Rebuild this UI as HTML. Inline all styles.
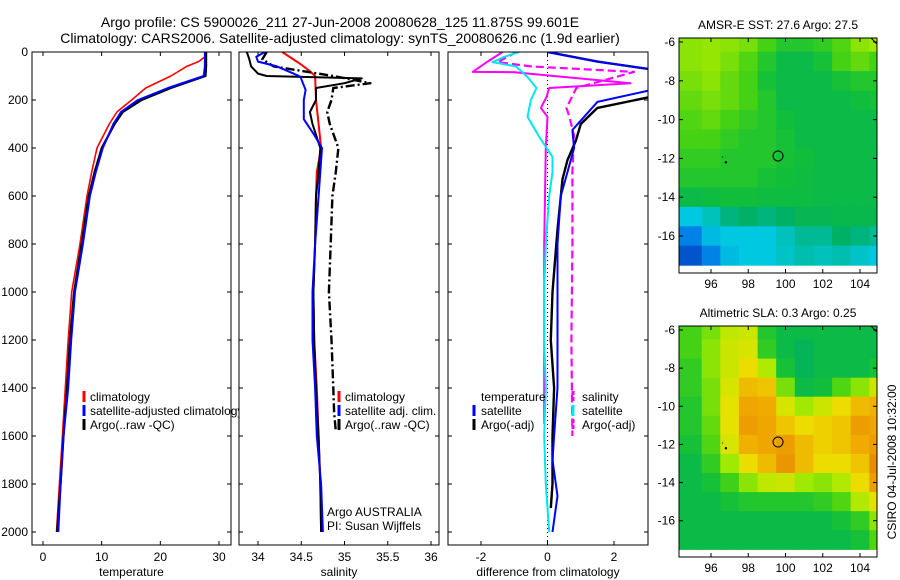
<!DOCTYPE html>
<html><head><meta charset="utf-8">
<style>
html,body{margin:0;padding:0;background:#fff;}
svg{display:block;font-family:"Liberation Sans",Arial,sans-serif;}
</style></head>
<body>
<svg id="fig" width="900" height="580" viewBox="0 0 900 580"></svg>
<script>
// ---------- DATA ----------
const depthTicks=[0,200,400,600,800,1000,1200,1400,1600,1800,2000];
const tempTicks=[0,10,20,30];
const salTicks=[34,34.5,35,35.5,36];
const salTickLabels=["34","34.5","35","35.5","36"];
const diffTicks=[-2,0,2];
const lonTicks=[96,98,100,102,104];
const latTicks=[-6,-8,-10,-12,-14,-16];

const tClimDepth=[0,20,40,60,100,150,200,250,300,400,500,600,800,1000,1200,1400,1600,1800,2000];
const tClim=[27.8,27.6,26.5,24.5,21.8,17.5,15.1,12.6,11.3,9.2,8.3,7.5,6.3,4.9,4.3,3.8,3.3,2.8,2.3];
const tSatDepth=[0,20,40,60,100,150,200,250,300,400,500,600,800,1000,1200,1400,1600,1800,2000];
const tSat=[27.6,27.6,27.6,27.6,27.4,21.3,16.2,13.3,12.0,10.2,9.0,8.0,6.8,5.45,4.8,4.3,3.5,3.0,2.6];
const tArgoDepth=[0,20,40,60,100,150,200,250,300,400,500,600,800,1000,1200,1400,1600,1800,2000];
const tArgo=[27.8,27.8,27.8,27.8,27.7,21.8,16.8,13.6,12.2,10.0,8.8,7.8,6.6,5.3,4.6,4.1,3.5,3.0,2.4];

const sClimDepth=[0,50,80,100,200,300,400,500,600,800,1000,1200,1400,1600,1800,2000];
const sClim=[34.28,34.49,34.6,34.66,34.67,34.7,34.73,34.68,34.67,34.66,34.64,34.65,34.68,34.7,34.72,34.73];
const sSatDepth=[0,20,40,60,90,103,158,200,280,340,400,500,600,800,1000,1200,1400,1600,1800,2000];
const sSat=[34.08,33.98,34.0,34.22,34.41,34.49,34.55,34.53,34.53,34.64,34.74,34.72,34.7,34.66,34.63,34.63,34.66,34.68,34.73,34.75];
const sArgoDepth=[0,30,60,90,100,110,130,150,200,250,300,400,500,600,800,1000,1200,1400,1600,1800,2000];
const sArgo=[33.87,33.9,33.92,34.0,34.1,35.2,35.0,34.67,34.67,34.6,34.63,34.72,34.7,34.67,34.66,34.64,34.65,34.67,34.7,34.72,34.73];
const sRawDepth=[0,30,60,100,130,150,200,250,300,400,500,600,800,1000,1200,1400,1500,1580];
const sRaw=[34.1,34.05,34.18,34.87,35.3,34.87,34.85,34.8,34.83,34.93,34.9,34.86,34.84,34.82,34.85,34.87,34.88,34.9];

const dTSatDepth=[0,40,70,100,150,162,208,325,400,500,600,800,1000,1200,1400,1600,1700,1850,2000];
const dTSat=[0,1.5,3,4.5,4,3,1.5,0.75,0.8,0.6,0.4,0.3,0.3,0.3,0.3,0.2,0.15,0.3,0.15];
const dTArgoDepth=[0,40,70,100,150,190,233,300,370,450,530,740,1000,1200,1400,1600,1800,1900];
const dTArgo=[0,1.5,3,4.5,4.5,3,1.5,1.0,0.85,0.6,0.45,0.3,0.15,0.1,0.2,0.15,0.15,0.1];
const dSSatDepth=[0,20,42,60,104,150,200,270,353,437,500,600,800,1000,1200,1400,1600,1800,2000];
const dSSat=[-0.85,-1.3,-1.65,-0.95,-0.6,-0.33,-0.5,-0.6,-0.25,0.15,0.15,0.05,-0.05,-0.1,-0.1,-0.05,-0.1,-0.05,0.05];
const dSArgoDepth=[0,40,83,84,130,150,187,233,270,400,800,1200,1550];
const dSArgo=[-1.35,-1.8,-2.25,-1.0,2.5,0.05,-0.03,-0.2,0,-0.05,-0.1,-0.1,-0.1];
const dSRawDepth=[0,42,60,83,150,233,270,350,500,800,1200,1600];
const dSRaw=[-0.93,-1.5,-0.5,2.6,0.87,0.57,0.66,0.8,0.75,0.75,0.72,0.75];

const mapLats=[-6,-7,-8,-9,-10,-11,-12,-13,-14,-15,-16,-17,-18];
const mapLons=[94.3,95.5,96.5,97.5,98.5,99.5,100.5,101.5,102.5,103.5,104.5];
const sstGrid=[
[0.62,0.63,0.62,0.6,0.55,0.5,0.5,0.52,0.56,0.62,0.64],
[0.62,0.63,0.6,0.56,0.5,0.45,0.45,0.48,0.55,0.58,0.55],
[0.6,0.62,0.58,0.55,0.48,0.45,0.45,0.45,0.48,0.5,0.5],
[0.58,0.6,0.58,0.55,0.5,0.45,0.45,0.45,0.45,0.47,0.48],
[0.56,0.58,0.55,0.52,0.5,0.47,0.45,0.45,0.45,0.45,0.45],
[0.55,0.55,0.52,0.5,0.5,0.48,0.45,0.45,0.45,0.45,0.45],
[0.52,0.52,0.5,0.5,0.5,0.48,0.47,0.45,0.45,0.45,0.45],
[0.5,0.5,0.5,0.5,0.48,0.47,0.46,0.45,0.45,0.45,0.45],
[0.45,0.46,0.47,0.47,0.46,0.46,0.46,0.45,0.45,0.45,0.45],
[0.3,0.33,0.38,0.4,0.38,0.4,0.43,0.43,0.44,0.44,0.44],
[0.2,0.28,0.3,0.3,0.3,0.33,0.36,0.36,0.4,0.38,0.36],
[0.1,0.2,0.28,0.3,0.3,0.32,0.34,0.33,0.34,0.32,0.3]];
const slaGrid=[
[0.55,0.6,0.68,0.7,0.5,0.45,0.45,0.45,0.45,0.45,0.45],
[0.55,0.62,0.7,0.72,0.52,0.45,0.42,0.45,0.45,0.45,0.45],
[0.52,0.62,0.7,0.76,0.66,0.48,0.42,0.45,0.45,0.45,0.48],
[0.52,0.6,0.72,0.82,0.8,0.6,0.45,0.47,0.56,0.62,0.7],
[0.5,0.6,0.74,0.86,0.85,0.72,0.64,0.7,0.76,0.82,0.84],
[0.5,0.58,0.74,0.88,0.86,0.8,0.76,0.78,0.8,0.88,0.86],
[0.48,0.56,0.72,0.84,0.86,0.88,0.82,0.78,0.8,0.85,0.88],
[0.45,0.52,0.64,0.76,0.82,0.9,0.82,0.76,0.76,0.8,0.92],
[0.45,0.48,0.54,0.62,0.68,0.7,0.64,0.62,0.66,0.76,0.88],
[0.45,0.45,0.48,0.5,0.5,0.5,0.5,0.52,0.56,0.66,0.74],
[0.45,0.45,0.45,0.45,0.45,0.45,0.45,0.45,0.48,0.52,0.62],
[0.45,0.45,0.45,0.45,0.45,0.45,0.45,0.45,0.45,0.48,0.56]];
const argoPos=[99.6,-11.875];

// ---------- HELPERS ----------
const NS="http://www.w3.org/2000/svg";
const svg=document.getElementById('fig');
function mk(tag,attrs,parent){const e=document.createElementNS(NS,tag);for(const k in attrs)e.setAttribute(k,attrs[k]);(parent||svg).appendChild(e);return e;}
function txt(s,x,y,anchor,size,parent,extra){const t=mk('text',Object.assign({x:x,y:y,'text-anchor':anchor||'start','font-size':size||12,fill:'#000'},extra||{}),parent);t.textContent=s;return t;}
function lin(d0,d1,p0,p1){return v=>p0+(v-d0)*(p1-p0)/(d1-d0);}

const TOP=52,BOT=545;
const yDepth=lin(0,2000,52,532);

function panel(name,x0,x1,xs,ticks,labels,xlabel,showY){
  const g=mk('g',{});
  
  
  mk('rect',{x:x0,y:TOP,width:x1-x0,height:BOT-TOP,fill:'#fff'},g);
  const cid=name+'-clip';
  const cp=mk('clipPath',{id:cid},g);mk('rect',{x:x0,y:TOP,width:x1-x0,height:BOT-TOP},cp);
  ticks.forEach((v,i)=>{const x=xs(v);
    mk('line',{x1:x,x2:x,y1:BOT,y2:BOT-4,stroke:'#000'},g);
    mk('line',{x1:x,x2:x,y1:TOP,y2:TOP+4,stroke:'#000'},g);
    const t=txt(labels[i],x,561,'middle',12,g);
    
  });
  depthTicks.forEach(d=>{const y=yDepth(d);
    mk('line',{x1:x0,x2:x0+4,y1:y,y2:y,stroke:'#000'},g);
    mk('line',{x1:x1,x2:x1-4,y1:y,y2:y,stroke:'#000'},g);
    if(showY){const t=txt(String(d),x0-4,y+4,'end',12,g);
      }
  });
  const xl=txt(xlabel,(x0+x1)/2,576,'middle',12,g);
  
  const plot=mk('g',{'clip-path':'url(#'+cid+')'},g);
  return {g,plot,x0,x1};
}
function series(parent,xs,vals,depths,color,width,dash,name){
  const pts=vals.map((v,i)=>xs(v).toFixed(1)+','+yDepth(depths[i]).toFixed(1)).join(' ');
  const p=mk('polyline',{points:pts,fill:'none',stroke:color,'stroke-width':width,'stroke-linejoin':'round'},parent);
  if(dash)p.setAttribute('stroke-dasharray',dash);
  
  
}
function frame(P){mk('rect',{x:P.x0,y:TOP,width:P.x1-P.x0,height:BOT-TOP,fill:'none',stroke:'#000','stroke-width':1},P.g);}
function legendItem(parent,mx,tx,y,color,label,dash,name){
  if(color){const l=mk('line',{x1:mx,x2:mx,y1:y-10,y2:y+1,stroke:color,'stroke-width':3},parent);
    if(dash)l.setAttribute('stroke-dasharray',dash);}
  const t=txt(label,tx,y,'start',12,parent);
  
}

// ---------- TITLE ----------
const t1=txt('Argo profile: CS 5900026_211 27-Jun-2008 20080628_125 11.875S 99.601E',340,27,'middle',14);

const t2=txt('Climatology: CARS2006. Satellite-adjusted climatology: synTS_20080626.nc (1.9d earlier)',340,43,'middle',14);


// ---------- PANEL 1 temperature ----------
const xT=lin(0,30,43,219);
const P1=panel('temperature-panel',32,231,xT,tempTicks,tempTicks.map(String),'temperature',true);
series(P1.plot,xT,tClim,tClimDepth,'#ff0000',1.6,null,'temperature-climatology-line');
series(P1.plot,xT,tArgo,tArgoDepth,'#000',2.2,null,'temperature-argo-line');
series(P1.plot,xT,tSat,tSatDepth,'#0000ff',2,null,'temperature-satellite-line');
const L1=mk('g',{});
legendItem(L1,84,90,401,'#ff0000','climatology',null,'legend-entry');
legendItem(L1,84,90,415,'#0000ff','satellite-adjusted climatology',null,'legend-entry');
legendItem(L1,84,90,429,'#000','Argo(..raw -QC)',null,'legend-entry');
frame(P1);

// ---------- PANEL 2 salinity ----------
const xS=lin(34,36,258,431);
const P2=panel('salinity-panel',239,439,xS,salTicks,salTickLabels,'salinity',false);
series(P2.plot,xS,sClim,sClimDepth,'#ff0000',2,null,'salinity-climatology-line');
series(P2.plot,xS,sRaw,sRawDepth,'#000',2.4,'9,3,2,3','salinity-argo-raw-line');
series(P2.plot,xS,sArgo,sArgoDepth,'#000',2,null,'salinity-argo-line');
series(P2.plot,xS,sSat,sSatDepth,'#0000ff',2,null,'salinity-satellite-line');
const L2=mk('g',{});
legendItem(L2,339,345,401,'#ff0000','climatology',null,'legend-entry');
legendItem(L2,339,345,415,'#0000ff','satellite adj. clim.',null,'legend-entry');
legendItem(L2,339,345,429,'#000','Argo(..raw -QC)',null,'legend-entry');
legendItem(L2,0,327,516,null,'Argo AUSTRALIA',null,'argo-country-label');
legendItem(L2,0,327,530,null,'PI: Susan Wijffels',null,'pi-label');
frame(P2);

// ---------- PANEL 3 difference ----------
const xD=lin(-2,2,481,614);
const P3=panel('difference-panel',448,648,xD,diffTicks,diffTicks.map(String),'difference from climatology',false);
mk('line',{x1:xD(0),x2:xD(0),y1:TOP,y2:BOT,stroke:'#000','stroke-width':1,'stroke-dasharray':'1,3'},P3.plot);
series(P3.plot,xD,dSRaw,dSRawDepth,'#ff00ff',2.2,'8,4','salinity-argo-diff-line');
series(P3.plot,xD,dSArgo,dSArgoDepth,'#ff00ff',2,null,'salinity-diff-line');
series(P3.plot,xD,dSSat,dSSatDepth,'#00e5ee',2,null,'salinity-satellite-diff-line');
series(P3.plot,xD,dTArgo,dTArgoDepth,'#000',2.4,null,'temperature-argo-diff-line');
series(P3.plot,xD,dTSat,dTSatDepth,'#0000ff',2,null,'temperature-satellite-diff-line');
const L3=mk('g',{});
legendItem(L3,0,481,401,null,'temperature',null,'legend-entry');
legendItem(L3,474,481,415,'#0000ff','satellite',null,'legend-entry');
legendItem(L3,474,481,429,'#000','Argo(-adj)',null,'legend-entry');
legendItem(L3,573,582,401,'#ff00ff','salinity','4,2','legend-entry');
legendItem(L3,573,582,415,'#00e5ee','satellite',null,'legend-entry');
legendItem(L3,573,582,429,'#ff00ff','Argo(-adj)','4,2','legend-entry');
frame(P3);

// ---------- MAPS ----------
const stops=[[0,[0,40,180]],[0.2,[0,130,230]],[0.3,[0,200,224]],[0.4,[0,176,100]],[0.47,[16,190,60]],[0.55,[70,210,20]],[0.65,[170,235,0]],[0.75,[235,225,0]],[0.85,[240,170,0]],[1,[220,110,0]]];
function cmap(v){for(let i=1;i<stops.length;i++){if(v<=stops[i][0]){const a=stops[i-1],b=stops[i];const f=(v-a[0])/(b[0]-a[0]);
  const c=a[1].map((q,k)=>Math.round(q+(b[1][k]-q)*f));return 'rgb('+c.join(',')+')';}}return 'rgb(220,110,0)';}
function mapPanel(name,title,grid,y0,y1){
  const x0=679,x1=877;
  const xL=lin(96,104,711,860);
  const yL=lin(-6,-16,y0+4,y0+4+(y1-y0)*194/235);
  const g=mk('g',{});
  const cid=name+'-clip';const cp=mk('clipPath',{id:cid},g);mk('rect',{x:x0,y:y0,width:x1-x0,height:y1-y0},cp);
  const cells=mk('g',{'clip-path':'url(#'+cid+')'},g);
  grid.forEach((row,r)=>row.forEach((v,c)=>{
    const lonA=mapLons[c],lonB=c+1<mapLons.length?mapLons[c+1]:105.5;
    const ya=yL(mapLats[r]+0.5),yb=yL(mapLats[r+1]+0.5);
    const rc=mk('rect',{x:xL(lonA).toFixed(1),y:(r===0?y0:ya).toFixed(1),width:(xL(lonB)-xL(lonA)+0.6).toFixed(1),height:((r===0?yb-y0:yb-ya)+0.6).toFixed(1),fill:cmap(v)},cells);
    
    
  }));
  const m=mk('circle',{cx:xL(argoPos[0]),cy:yL(argoPos[1]),r:5,fill:'none',stroke:'#000','stroke-width':1},cells);
  
  mk('circle',{cx:xL(96.8),cy:yL(-12.2),r:1.2,fill:'#000'},cells);
  mk('rect',{x:xL(96.6),y:yL(-11.9),width:1,height:1,fill:'#000'},cells);
  mk('path',{d:`M${x1-6},${y0} L${x1},${y0} L${x1},${y0+6} Z`,fill:'none',stroke:'#000'},cells);
  mk('rect',{x:x0,y:y0,width:x1-x0,height:y1-y0,fill:'none',stroke:'#000'},g);
  lonTicks.forEach(v=>{const x=xL(v);
    mk('line',{x1:x,x2:x,y1:y1,y2:y1-4,stroke:'#000'},g);mk('line',{x1:x,x2:x,y1:y0,y2:y0+4,stroke:'#000'},g);
    const t=txt(String(v),x,y1+15,'middle',12,g);});
  latTicks.forEach(v=>{const y=yL(v);
    mk('line',{x1:x0,x2:x0+4,y1:y,y2:y,stroke:'#000'},g);mk('line',{x1:x1,x2:x1-4,y1:y,y2:y,stroke:'#000'},g);
    const t=txt(String(v),675,y+4,'end',12,g);});
  const tt=txt(title,778,y0-9,'middle',12,g);
}
mapPanel('sst-map','AMSR-E SST: 27.6 Argo: 27.5',sstGrid,38,273);
mapPanel('sla-map','Altimetric SLA: 0.3 Argo: 0.25',slaGrid,326,557);
const cs=txt('CSIRO 04-Jul-2008 10:32:00',0,0,'middle',12,null,{transform:'translate(896,462) rotate(-90)'});

</script>
</body></html>
